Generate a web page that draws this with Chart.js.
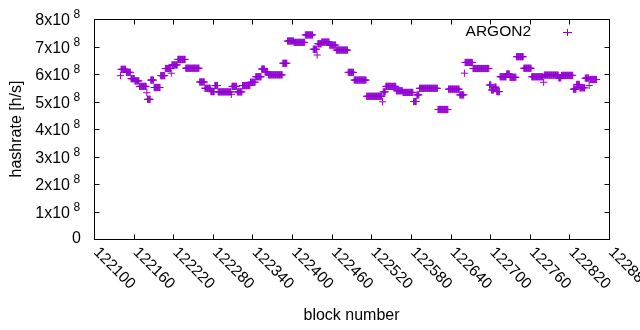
<!DOCTYPE html>
<html><head><meta charset="utf-8">
<script src="https://cdn.jsdelivr.net/npm/chart.js@4/dist/chart.umd.min.js"></script>
<style>html,body{margin:0;padding:0;background:#fff;}canvas{display:block;}</style>
</head><body>
<canvas id="c" width="640" height="330"></canvas>
<script>
const seriesName = 'ARGON2';
const xTitle = 'block number';
const yTitle = 'hashrate [h/s]';
const firstBlock = 122140;
// hashrate per consecutive block, in units of 10^8 h/s
const hashrateE8 = [
5.94,
6.17,6.17,6.17,6.17,6.17,6.17,6.17,6.17,
6.06,6.06,6.06,6.06,6.06,6.06,6.06,
5.83,5.83,5.83,5.83,5.83,5.83,
5.75,5.75,5.75,5.75,5.75,5.75,5.75,
5.55,5.55,5.55,5.55,5.55,5.55,5.55,5.55,5.55,5.55,5.55,
5.32,
5.08,5.08,5.08,5.08,5.08,
5.78,5.78,5.78,5.78,5.78,
5.51,5.51,5.51,5.51,5.51,5.51,5.51,5.51,5.51,5.51,
5.94,5.94,5.94,5.94,5.94,5.94,5.94,
6.20,6.20,6.20,6.20,6.20,6.20,6.20,6.20,6.20,
6.03,
6.33,6.33,6.33,6.33,6.33,6.33,6.33,6.33,6.33,
6.53,6.53,6.53,6.53,6.53,6.53,6.53,6.53,6.53,6.53,6.53,6.53,
6.21,6.21,6.21,6.21,6.21,6.21,6.21,6.21,6.21,6.21,6.21,6.21,6.21,6.21,6.21,6.21,6.21,6.21,6.21,6.21,6.21,
5.71,5.71,5.71,5.71,5.71,5.71,5.71,5.71,
5.48,5.48,5.48,5.48,5.48,5.48,5.48,5.48,5.48,
5.36,5.36,5.36,5.36,5.36,5.36,
5.58,5.58,5.58,5.58,5.58,
5.35,5.35,5.35,5.35,5.35,5.35,5.35,5.35,5.35,5.35,5.35,5.35,5.35,5.35,5.35,5.35,5.35,5.35,5.35,5.35,
5.26,
5.55,5.55,5.55,5.55,5.55,5.55,5.55,5.55,
5.35,5.35,5.35,5.35,5.35,5.35,5.35,5.35,
5.58,5.58,5.58,5.58,5.58,5.58,5.58,5.58,5.58,5.58,5.58,5.58,
5.70,5.70,5.70,5.70,5.70,5.70,5.70,5.70,
5.90,5.90,5.90,5.90,5.90,5.90,5.90,5.90,5.90,
6.18,6.18,6.18,6.18,6.18,
6.08,6.08,6.08,6.08,6.08,
5.97,5.97,5.97,5.97,5.97,5.97,5.97,5.97,5.97,5.97,5.97,5.97,5.97,5.97,5.97,5.97,5.97,5.97,5.97,5.97,5.97,5.97,
6.39,6.39,6.39,6.39,6.39,6.39,6.39,
7.20,7.20,7.20,7.20,7.20,7.20,7.20,7.20,7.20,7.20,
7.15,7.15,7.15,7.15,7.15,7.15,7.15,7.15,7.15,7.15,7.15,7.15,7.15,7.15,7.15,7.15,7.15,
7.42,7.42,7.42,7.42,7.42,7.42,7.42,7.42,7.42,7.42,7.42,7.42,
6.90,6.90,6.90,6.90,6.90,6.90,
6.69,
7.10,7.10,7.10,7.10,7.10,7.10,
7.16,7.16,7.16,7.16,7.16,7.16,7.16,7.16,7.16,7.16,7.16,7.16,
7.05,7.05,7.05,7.05,7.05,7.05,7.05,7.05,7.05,7.05,
6.87,6.87,6.87,6.87,6.87,6.87,6.87,6.87,6.87,6.87,6.87,6.87,6.87,6.87,6.87,6.87,6.87,6.87,
6.06,6.06,6.06,6.06,6.06,6.06,6.06,6.06,6.06,
5.78,5.78,5.78,5.78,5.78,5.78,5.78,5.78,5.78,5.78,5.78,5.78,5.78,5.78,5.78,5.78,5.78,5.78,5.78,
5.19,5.19,5.19,5.19,5.19,5.19,5.19,5.19,5.19,5.19,5.19,5.19,5.19,5.19,5.19,5.19,5.19,5.19,5.19,5.19,5.19,5.19,5.19,5.19,
4.99,
5.35,5.35,5.35,5.35,
5.55,5.55,5.55,5.55,5.55,5.55,5.55,5.55,5.55,5.55,5.55,5.55,5.55,5.55,5.55,5.55,
5.39,5.39,5.39,5.39,5.39,5.39,5.39,5.39,5.39,5.39,
5.33,5.33,5.33,5.33,5.33,5.33,5.33,5.33,5.33,5.33,5.33,5.33,5.33,5.33,5.33,5.33,
5.00,5.00,5.00,5.00,5.00,
5.24,5.24,5.24,5.24,
5.48,5.48,5.48,5.48,5.48,5.48,5.48,5.48,5.48,5.48,5.48,5.48,5.48,5.48,5.48,5.48,5.48,5.48,5.48,5.48,5.48,5.48,5.48,5.48,5.48,5.48,5.48,5.48,
4.71,4.71,4.71,4.71,4.71,4.71,4.71,4.71,4.71,4.71,4.71,4.71,4.71,4.71,4.71,4.71,
5.45,5.45,5.45,5.45,5.45,5.45,5.45,5.45,5.45,5.45,5.45,5.45,5.45,5.45,5.45,5.45,5.45,
5.24,5.24,5.24,5.24,5.24,5.24,5.24,
6.03,
6.42,6.42,6.42,6.42,6.42,6.42,6.42,6.42,6.42,6.42,6.42,6.42,
6.20,6.20,6.20,6.20,6.20,6.20,6.20,6.20,6.20,6.20,6.20,6.20,6.20,6.20,6.20,6.20,6.20,6.20,6.20,6.20,6.20,6.20,6.20,6.20,6.20,
5.60,5.60,5.60,
5.42,5.42,5.42,5.42,
5.52,5.52,5.52,5.52,
5.36,5.36,5.36,5.36,5.36,
5.90,5.90,5.90,5.90,5.90,5.90,5.90,5.90,5.90,5.90,
6.00,6.00,6.00,6.00,6.00,
5.88,5.88,5.88,5.88,5.88,5.88,5.88,5.88,5.88,5.88,
6.63,6.63,6.63,6.63,6.63,6.63,6.63,6.63,6.63,6.63,6.63,
6.21,6.21,6.21,6.21,6.21,6.21,6.21,6.21,6.21,6.21,6.21,6.21,
5.90,5.90,5.90,5.90,5.90,5.90,5.90,5.90,5.90,5.90,5.90,5.90,5.90,5.90,5.90,5.90,5.90,5.90,
5.70,
5.96,5.96,5.96,5.96,5.96,5.96,5.96,5.96,5.96,5.96,5.96,5.96,5.96,5.96,5.96,5.96,5.96,5.96,5.96,5.96,5.96,5.96,
5.86,5.86,5.86,5.86,
5.95,5.95,5.95,5.95,5.95,5.95,5.95,5.95,5.95,5.95,5.95,5.95,5.95,5.95,5.95,5.95,5.95,5.95,
5.45,5.45,5.45,5.45,5.45,
5.62,5.62,5.62,5.62,5.62,
5.50,5.50,5.50,5.50,5.50,5.50,5.50,5.50,
5.85,5.85,5.85,5.85,5.85,5.85,
5.58,
5.80,5.80,5.80,5.80,5.80,5.80,5.80,5.80,5.80,5.80,5.80
];
const xTickValues = [122100,122160,122220,122280,122340,122400,122460,122520,122580,122640,122700,122760,122820,122880];
const yTickValues = [0,1,2,3,4,5,6,7,8];
const yExponent = '8';

const FONT = "'Liberation Sans', Arial, sans-serif";
const COLOR = '#9400d3';

const points = hashrateE8.map((v, i) => ({x: firstBlock + i, y: v}));

const gnuplotFrame = {
  id: 'gnuplotFrame',
  afterDraw(chart) {
    const {ctx, chartArea: a, scales: {x, y}} = chart;
    const L = Math.round(a.left), R = Math.round(a.right), T = Math.round(a.top), B = Math.round(a.bottom);
    ctx.save();
    ctx.strokeStyle = '#000';
    ctx.lineWidth = 1;
    ctx.strokeRect(L + 0.5, T + 0.5, R - L, B - T);
    const tl = 5;
    ctx.beginPath();
    xTickValues.forEach(v => {
      const px = Math.round(x.getPixelForValue(v)) + 0.5;
      ctx.moveTo(px, B + 0.5); ctx.lineTo(px, B + 0.5 - tl);
      ctx.moveTo(px, T + 0.5); ctx.lineTo(px, T + 0.5 + tl);
    });
    yTickValues.forEach(v => {
      const py = Math.round(y.getPixelForValue(v)) + 0.5;
      ctx.moveTo(L + 0.5, py); ctx.lineTo(L + 0.5 + tl, py);
      ctx.moveTo(R + 0.5, py); ctx.lineTo(R + 0.5 - tl, py);
    });
    ctx.stroke();

    ctx.fillStyle = '#000';
    // y tick labels
    yTickValues.forEach(v => {
      const py = y.getPixelForValue(v);
      if (v === 0) {
        ctx.font = '16px ' + FONT;
        ctx.textAlign = 'right'; ctx.textBaseline = 'middle';
        ctx.fillText('0', 81, py);
      } else {
        ctx.font = '16px ' + FONT;
        ctx.textAlign = 'right'; ctx.textBaseline = 'middle';
        ctx.fillText(v + 'x10', 70, py + 2);
        ctx.font = '12px ' + FONT;
        ctx.textAlign = 'left';
        ctx.fillText(yExponent, 73.5, py - 4);
      }
    });
    // x tick labels rotated
    ctx.font = '15.5px ' + FONT;
    xTickValues.forEach(v => {
      const px = x.getPixelForValue(v);
      ctx.save();
      ctx.translate(px + 2, B + 11);
      ctx.rotate(Math.PI / 4);
      ctx.textAlign = 'left'; ctx.textBaseline = 'middle';
      ctx.fillText(String(v), 0, 0);
      ctx.restore();
    });
    // axis titles
    ctx.font = '16px ' + FONT;
    ctx.textAlign = 'center'; ctx.textBaseline = 'middle';
    ctx.fillText(xTitle, (L + R) / 2, 316);
    ctx.save();
    ctx.translate(17, (T + B) / 2);
    ctx.rotate(-Math.PI / 2);
    ctx.fillText(yTitle, 0, 0);
    ctx.restore();
    // legend
    ctx.font = '15.5px ' + FONT;
    ctx.textAlign = 'right'; ctx.textBaseline = 'middle';
    ctx.fillText(seriesName, 531, 32);
    ctx.strokeStyle = COLOR;
    ctx.beginPath();
    ctx.moveTo(563, 32.5); ctx.lineTo(572, 32.5);
    ctx.moveTo(567.5, 29); ctx.lineTo(567.5, 36);
    ctx.stroke();
    ctx.restore();
  }
};

new Chart(document.getElementById('c'), {
  type: 'scatter',
  data: {
    datasets: [{
      label: seriesName,
      data: points,
      pointStyle: 'cross',
      pointRadius: 3.6,
      pointHoverRadius: 3.6,
      pointBorderWidth: 1,
      borderColor: COLOR,
      backgroundColor: COLOR,
      showLine: false
    }]
  },
  options: {
    responsive: false,
    animation: false,
    devicePixelRatio: 1,
    events: [],
    layout: {padding: {left: 94, right: 31, top: 19, bottom: 91}},
    plugins: {legend: {display: false}, tooltip: {enabled: false}, title: {display: false}},
    scales: {
      x: {type: 'linear', min: 122100, max: 122880, display: false},
      y: {type: 'linear', min: 0, max: 8, display: false}
    }
  },
  plugins: [gnuplotFrame]
});
</script>
</body></html>
